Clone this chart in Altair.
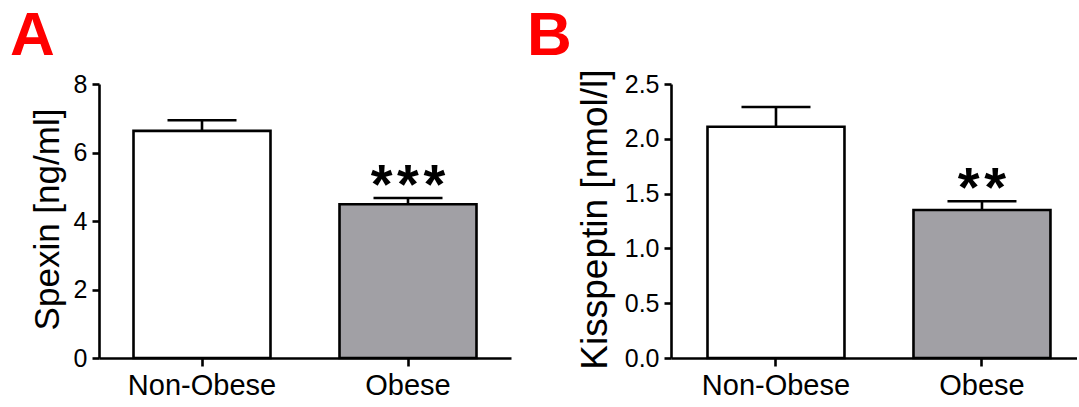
import altair as alt
import pandas as pd

# ---- data ----
groups = ["Non-Obese", "Obese"]
fills = ["#ffffff", "#a1a0a5"]

spexin_mean = [6.63, 4.49]
spexin_sem = [0.31, 0.18]
spexin_stars = ["", "*\u200a*\u200a*"]

kiss_mean = [2.11, 1.35]
kiss_sem = [0.18, 0.08]
kiss_stars = ["", "*\u200a*"]

spexin_ticks = [0, 2, 4, 6, 8]
kiss_ticks = [0.0, 0.5, 1.0, 1.5, 2.0, 2.5]

FONT = "Liberation Sans"


def make_df(means, sems, stars):
    return pd.DataFrame({
        "group": groups,
        "mean": means,
        "upper": [m + s for m, s in zip(means, sems)],
        "stars": stars,
        "fill": fills,
    })


def panel(df, letter, letter_x, ytitle, ymax, yticks, fmt, title_x,
          title_size, width, pad_outer, align):
    xscale = alt.Scale(domain=groups, paddingInner=0.335,
                       paddingOuter=pad_outer, align=align)
    yscale = alt.Scale(domain=[0, ymax], nice=False, zero=True)
    xaxis = alt.Axis(title=None, labelAngle=0, labelFontSize=29,
                     labelPadding=5, labelFont=FONT, labelColor="black",
                     tickSize=8)
    yaxis = alt.Axis(title=ytitle, values=yticks, format=fmt,
                     labelFontSize=25, labelPadding=5, labelFont=FONT,
                     labelColor="black", tickSize=7,
                     titleFont=FONT, titleFontSize=title_size,
                     titleFontWeight="normal", titleColor="black",
                     titleX=title_x, titleY=135, titleAngle=270,
                     titleAlign="center", titleBaseline="middle",
                     titleLimit=1000)
    base = alt.Chart(df).encode(
        x=alt.X("group:N", scale=xscale, sort=groups, axis=xaxis))
    bars = base.mark_bar(stroke="black", strokeWidth=2.6).encode(
        y=alt.Y("mean:Q", scale=yscale, axis=yaxis),
        fill=alt.Fill("fill:N", scale=None),
    )
    stem = base.mark_rule(color="black", strokeWidth=2.6).encode(
        y=alt.Y("mean:Q", scale=yscale), y2="upper:Q")
    cap = base.mark_tick(color="black", thickness=2.6, size=69,
                         opacity=1).encode(y=alt.Y("upper:Q", scale=yscale))
    star = base.mark_text(font=FONT, fontWeight="bold", fontSize=56,
                          baseline="alphabetic", align="center", dy=5,
                          color="black").encode(
        y=alt.Y("upper:Q", scale=yscale), text="stars:N")
    lab = alt.Chart(pd.DataFrame({"letter": [letter]})).mark_text(
        font=FONT, fontWeight="bold", fontSize=62, color="#ff0000",
        align="left", baseline="top").encode(
        x=alt.value(letter_x), y=alt.value(-78), text="letter:N")
    return alt.layer(bars, stem, cap, star, lab).properties(
        width=width, height=274)


pA = panel(make_df(spexin_mean, spexin_sem, spexin_stars), "A", -89,
           "Spexin [ng/ml]", 8, spexin_ticks, "d", -52, 35,
           412, 0.1675, 0.5)
pB = panel(make_df(kiss_mean, kiss_sem, kiss_stars), "B", -144,
           "Kisspeptin [nmol/l]", 2.5, kiss_ticks, ".1f", -76, 37,
           406, 0.153, 0.579)

chart = alt.hconcat(pA, pB, spacing=160, bounds="flush").properties(
    padding={"left": 10, "top": 5, "right": 0, "bottom": 4},
    background="white",
).configure_view(stroke=None).configure_axis(
    domainColor="black", domainWidth=2.6, tickColor="black", tickWidth=2.6,
    grid=False,
)

chart.save("out.html", embed_options={"renderer": "svg", "actions": False})
